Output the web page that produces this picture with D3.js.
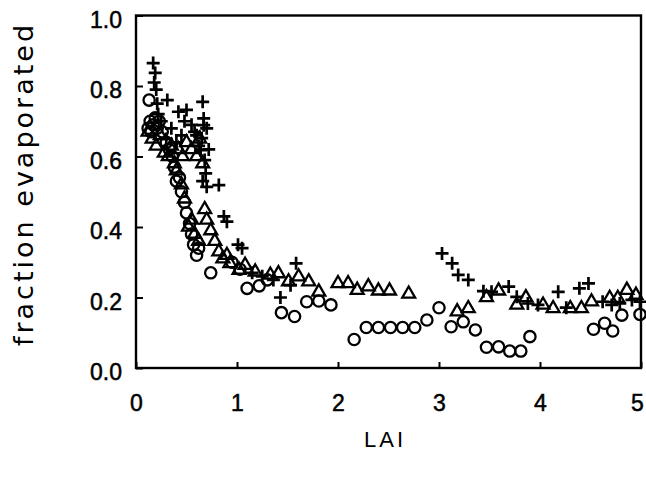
<!DOCTYPE html>
<html>
<head>
<meta charset="utf-8">
<script src="https://cdn.jsdelivr.net/npm/d3@7"></script>
<style>
  body { margin: 0; background: #fff; }
</style>
</head>
<body>
<div id="chart"></div>
<script>
// data
// circles
var circleLai = [0.13, 0.12, 0.14, 0.15, 0.17, 0.19, 0.21, 0.23, 0.26, 0.30, 0.33, 0.36, 0.38, 0.40, 0.43, 0.45, 0.48,
    0.50, 0.53, 0.55, 0.57, 0.60, 0.62, 0.74, 0.95, 1.03, 1.10, 1.22, 1.30, 1.44, 1.57, 1.69, 1.81, 1.93,
    2.16, 2.28, 2.40, 2.52, 2.64, 2.76, 2.88, 3.00, 3.12, 3.24, 3.36, 3.47, 3.59, 3.70, 3.81, 3.90,
    4.53, 4.64, 4.72, 4.81, 4.99];
var circleFrac = [0.76, 0.68, 0.70, 0.67, 0.69, 0.71, 0.68, 0.70, 0.67, 0.64, 0.62, 0.60, 0.57, 0.53, 0.54, 0.50, 0.47,
    0.44, 0.41, 0.38, 0.35, 0.32, 0.34, 0.27, 0.30, 0.28, 0.226, 0.233, 0.25, 0.157, 0.146, 0.188, 0.19, 0.179,
    0.081, 0.115, 0.115, 0.115, 0.115, 0.115, 0.136, 0.171, 0.117, 0.131, 0.108, 0.059, 0.060, 0.048, 0.048, 0.089,
    0.11, 0.127, 0.105, 0.150, 0.152];

// triangles
var triLai = [0.12, 0.16, 0.20, 0.24, 0.28, 0.32, 0.35, 0.38, 0.42, 0.46, 0.50, 0.55, 0.60, 0.63, 0.66, 0.40, 0.45,
    0.48, 0.52, 0.55, 0.58, 0.62, 0.68, 0.70, 0.74, 0.78, 0.82, 0.86, 0.90, 0.93, 1.02, 1.08, 1.18, 1.33, 1.41, 1.51, 1.61, 1.71,
    1.81, 2.00, 2.10, 2.19, 2.30, 2.40, 2.51, 2.70, 3.18, 3.29, 3.47, 3.59, 3.77, 3.86, 4.03, 4.13, 4.30, 4.41, 4.51,
    4.69, 4.77, 4.86, 4.95];
var triFrac = [0.67, 0.65, 0.63, 0.66, 0.61, 0.60, 0.63, 0.58, 0.62, 0.60, 0.64, 0.62, 0.60, 0.65, 0.58, 0.56, 0.52,
    0.48, 0.40, 0.42, 0.38, 0.36, 0.45, 0.42, 0.39, 0.36, 0.33, 0.31, 0.32, 0.297, 0.278, 0.292, 0.273, 0.264, 0.268, 0.245, 0.259, 0.245,
    0.216, 0.24, 0.24, 0.221, 0.231, 0.219, 0.219, 0.21, 0.160, 0.169, 0.20, 0.219, 0.179, 0.20, 0.179, 0.169, 0.169, 0.169, 0.188,
    0.198, 0.198, 0.221, 0.207];

// plus signs
var plusLai = [0.17, 0.19, 0.18, 0.20, 0.21, 0.22, 0.31, 0.42, 0.50, 0.66, 0.67, 0.67, 0.65, 0.64, 0.69, 0.70, 0.82,
    0.87, 0.90, 1.01, 1.05, 0.35, 0.45, 0.55, 0.60, 0.25, 0.30, 0.40, 0.62, 0.70, 0.72, 0.48, 0.58, 0.68, 0.66,
    1.15, 1.25, 1.36, 1.43, 1.53, 1.585,
    3.03, 3.13, 3.19, 3.29, 3.44, 3.52, 3.69, 3.77, 3.88, 3.98, 4.18, 4.26, 4.39, 4.48, 4.62, 4.71, 4.79, 4.91, 4.99];
var plusFrac = [0.865, 0.837, 0.81, 0.79, 0.75, 0.72, 0.76, 0.727, 0.732, 0.755, 0.708, 0.689, 0.652, 0.618, 0.552, 0.514, 0.519,
    0.43, 0.415, 0.35, 0.34, 0.68, 0.66, 0.69, 0.66, 0.70, 0.65, 0.64, 0.63, 0.68, 0.62, 0.70, 0.67, 0.59, 0.53,
    0.27, 0.26, 0.25, 0.20, 0.235, 0.297,
    0.325, 0.297, 0.264, 0.25, 0.218, 0.216, 0.231, 0.202, 0.183, 0.179, 0.216, 0.171, 0.226, 0.24, 0.188, 0.179, 0.183, 0.193, 0.188];

var xTicks = [0, 1, 2, 3, 4, 5];
var yTicks = [0.0, 0.2, 0.4, 0.6, 0.8, 1.0];

// layout
var W = 646, H = 478;
var plotLeft = 136, plotRight = 641, plotTop = 15.5, plotBottom = 368;

var svg = d3.select('#chart')
    .append('svg')
        .attr('width', W)
        .attr('height', H);

var x = d3.scaleLinear().domain([0, 5]).range([plotLeft, plotRight]);
var y = d3.scaleLinear().domain([0, 1]).range([plotBottom, plotTop]);

// frame
svg.append('rect')
    .attr('x', plotLeft)
    .attr('y', plotTop)
    .attr('width', plotRight - plotLeft)
    .attr('height', plotBottom - plotTop)
    .attr('fill', 'none')
    .attr('stroke', 'black')
    .attr('stroke-width', 2.4);

// bottom axis, ticks point inward
var xAxis = svg.append('g')
    .attr('transform', 'translate(0,' + plotBottom + ')')
    .call(d3.axisBottom(x).tickValues(xTicks).tickSizeInner(-6).tickSizeOuter(0).tickPadding(27)
        .tickFormat(d3.format('d')));
xAxis.select('.domain').remove();
xAxis.selectAll('line').attr('stroke-width', 2);
xAxis.selectAll('text')
    .attr('font-family', 'Liberation Sans, Arial, sans-serif')
    .attr('font-size', 23)
    .attr('fill', 'black')
    .attr('stroke', 'black')
    .attr('stroke-width', 0.5)
    .attr('dx', function(d) { return d === 5 ? -4 : 0; });

// left axis
var yAxis = svg.append('g')
    .attr('transform', 'translate(' + plotLeft + ',0)')
    .call(d3.axisLeft(y).tickValues(yTicks).tickSizeInner(-7).tickSizeOuter(0).tickPadding(14)
        .tickFormat(d3.format('.1f')));
yAxis.select('.domain').remove();
yAxis.selectAll('line').attr('stroke-width', 2);
yAxis.selectAll('text')
    .attr('font-family', 'Liberation Sans, Arial, sans-serif')
    .attr('font-size', 23)
    .attr('dy', '0.5em')
    .attr('fill', 'black')
    .attr('stroke', 'black')
    .attr('stroke-width', 0.5);

// axis titles
svg.append('text')
    .attr('x', 385)
    .attr('y', 447)
    .style('text-anchor', 'middle')
    .attr('font-family', 'Liberation Sans, Arial, sans-serif')
    .attr('font-size', 22)
    .attr('letter-spacing', 3)
    .text('LAI');

svg.append('text')
    .attr('transform', 'translate(33,184) rotate(-90)')
    .style('text-anchor', 'middle')
    .attr('font-family', 'DejaVu Sans, sans-serif')
    .attr('font-size', 27)
    .attr('letter-spacing', 3)
    .text('fraction evaporated');

// markers
var plusShape = {
    draw: function(ctx, size) {
        var r = Math.sqrt(size) / 2;
        ctx.moveTo(-r, 0); ctx.lineTo(r, 0);
        ctx.moveTo(0, -r); ctx.lineTo(0, r);
    }
};

function drawSeries(xs, ys, type, size, sw) {
    svg.append('g')
        .selectAll('path')
        .data(xs.map(function(d, i) { return [d, ys[i]]; }))
        .enter()
        .append('path')
            .attr('transform', function(d) { return 'translate(' + x(d[0]) + ',' + y(d[1]) + ')'; })
            .attr('d', d3.symbol().type(type).size(size))
            .attr('fill', 'none')
            .attr('stroke', 'black')
            .attr('stroke-width', sw);
}

drawSeries(circleLai, circleFrac, d3.symbolCircle, 100, 2.3);
drawSeries(triLai, triFrac, d3.symbolTriangle, 72, 2.3);
drawSeries(plusLai, plusFrac, plusShape, 169, 2.7);
</script>
</body>
</html>
